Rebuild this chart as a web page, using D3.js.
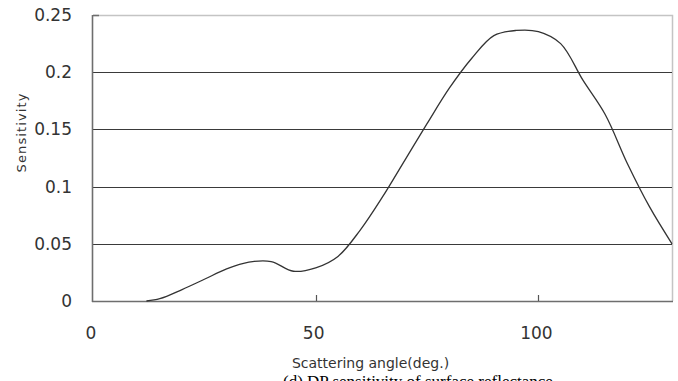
<!DOCTYPE html>
<html>
<head>
<meta charset="utf-8">
<script src="https://cdn.jsdelivr.net/npm/d3@7/dist/d3.min.js"></script>
<style>
  html, body { margin: 0; padding: 0; background: #fff; }
  svg { display: block; }
  text { font-family: "DejaVu Sans", sans-serif; fill: #333; }
</style>
</head>
<body>
<svg id="chart" width="678" height="381"></svg>
<script>
// Scattering angle (deg.) and DP sensitivity of surface reflectance
const angles = [12, 15, 20, 25, 30, 35, 40, 45, 50, 55, 60, 65, 70, 75, 80, 85, 90, 95, 100, 105, 110, 115, 120, 125, 130];
const sensitivity = [0.000, 0.002, 0.010, 0.019, 0.028, 0.034, 0.0345, 0.026, 0.029, 0.039, 0.062, 0.091, 0.123, 0.155, 0.186, 0.212, 0.232, 0.2365, 0.2355, 0.225, 0.193, 0.163, 0.120, 0.082, 0.050];
const xTicks = [0, 50, 100];
const yTicks = [0, 0.05, 0.1, 0.15, 0.2, 0.25];
const yTickLabels = ["0", "0.05", "0.1", "0.15", "0.2", "0.25"];

const svg = d3.select("#chart");
const plotLeft = 93, plotRight = 672, plotTop = 15, plotBottom = 301;

const x = d3.scaleLinear().domain([0, 130]).range([plotLeft, plotRight]);
const y = d3.scaleLinear().domain([0, 0.25]).range([plotBottom, plotTop]);

// plot-area border (top / right)
svg.append("path")
  .attr("d", `M${plotLeft},${plotTop + 0.5}H${plotRight + 0.5}V${plotBottom}`)
  .attr("fill", "none").attr("stroke", "#c4c4c4").attr("stroke-width", 1.5);

// horizontal gridlines
svg.append("g").selectAll("line")
  .data(yTicks.filter(v => v > 0 && v < 0.25))
  .join("line")
  .attr("x1", plotLeft).attr("x2", plotRight)
  .attr("y1", d => Math.round(y(d)) + 0.5).attr("y2", d => Math.round(y(d)) + 0.5)
  .attr("stroke", "#3a3a3a").attr("stroke-width", 1.2);

// y axis line, labels and small inner tick at the top
svg.append("line")
  .attr("x1", plotLeft - 0.5).attr("x2", plotLeft - 0.5)
  .attr("y1", plotTop).attr("y2", plotBottom + 1)
  .attr("stroke", "#6e6e6e").attr("stroke-width", 1.6);
svg.append("line")
  .attr("x1", plotLeft).attr("x2", plotLeft + 6)
  .attr("y1", plotTop + 0.5).attr("y2", plotTop + 0.5)
  .attr("stroke", "#6e6e6e").attr("stroke-width", 1.5);

svg.append("g").selectAll("text")
  .data(yTicks)
  .join("text")
  .attr("x", 72)
  .attr("y", d => y(d) + 6)
  .attr("text-anchor", "end")
  .attr("font-size", 17)
  .text((d, i) => yTickLabels[i]);

// x axis line, inner ticks and labels
svg.append("line")
  .attr("x1", plotLeft - 1).attr("x2", plotRight + 1)
  .attr("y1", plotBottom + 0.5).attr("y2", plotBottom + 0.5)
  .attr("stroke", "#6e6e6e").attr("stroke-width", 1.6);

svg.append("g").selectAll("line")
  .data(xTicks.filter(v => v > 0))
  .join("line")
  .attr("x1", d => Math.round(x(d)) + 0.5).attr("x2", d => Math.round(x(d)) + 0.5)
  .attr("y1", plotBottom).attr("y2", plotBottom - 6)
  .attr("stroke", "#555").attr("stroke-width", 1.2);

svg.append("g").selectAll("text")
  .data(xTicks)
  .join("text")
  .attr("x", d => x(d) - 2)
  .attr("y", 339)
  .attr("text-anchor", "middle")
  .attr("font-size", 17)
  .text(d => d);

// sensitivity curve
const line = d3.line()
  .x(d => x(d[0]))
  .y(d => y(d[1]))
  .curve(d3.curveCatmullRom.alpha(0.5));

svg.append("path")
  .datum(angles.map((a, i) => [a, sensitivity[i]]))
  .attr("d", line)
  .attr("fill", "none")
  .attr("stroke", "#333")
  .attr("stroke-width", 1.3);

// axis titles
svg.append("text")
  .attr("transform", "translate(26,133) rotate(-90)")
  .attr("text-anchor", "middle")
  .attr("font-size", 13)
  .attr("textLength", 79)
  .attr("lengthAdjust", "spacing")
  .text("Sensitivity");

svg.append("text")
  .attr("x", 370.5)
  .attr("y", 368)
  .attr("text-anchor", "middle")
  .attr("font-size", 14)
  .text("Scattering angle(deg.)");

// figure caption (runs past the lower edge of the figure)
svg.append("text")
  .attr("x", 283)
  .attr("y", 387)
  .style("font-family", "'Liberation Serif', 'Times New Roman', serif")
  .attr("font-size", 17)
  .style("fill", "#000")
  .text("(d) DP sensitivity of surface reflectance");
</script>
</body>
</html>
